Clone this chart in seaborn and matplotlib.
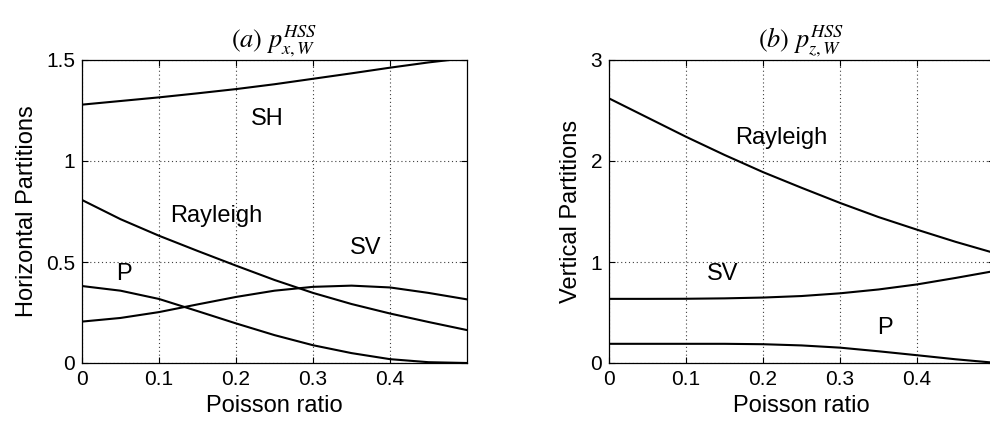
import numpy as np
import pandas as pd
import matplotlib
matplotlib.use("Agg")
import matplotlib.pyplot as plt
import seaborn as sns
from matplotlib.ticker import FuncFormatter

# ---- data ----
poisson = [0.0, 0.05, 0.10, 0.15, 0.20, 0.25, 0.30, 0.35, 0.40, 0.45, 0.50]

# (a) horizontal partitions
h_SH = [1.279, 1.297, 1.315, 1.335, 1.356, 1.380, 1.407, 1.434, 1.462, 1.488, 1.510]
h_Rayleigh = [0.807, 0.712, 0.630, 0.555, 0.482, 0.411, 0.347, 0.292, 0.245, 0.203, 0.163]
h_SV = [0.205, 0.223, 0.252, 0.290, 0.327, 0.358, 0.377, 0.383, 0.374, 0.347, 0.315]
h_P = [0.381, 0.358, 0.317, 0.257, 0.196, 0.138, 0.088, 0.049, 0.019, 0.004, 0.000]

# (b) vertical partitions
v_Rayleigh = [2.620, 2.430, 2.240, 2.060, 1.890, 1.735, 1.585, 1.445, 1.320, 1.200, 1.090]
v_SV = [0.635, 0.635, 0.636, 0.640, 0.648, 0.663, 0.690, 0.728, 0.778, 0.842, 0.910]
v_P = [0.190, 0.190, 0.190, 0.190, 0.186, 0.174, 0.152, 0.116, 0.077, 0.037, 0.003]

x_ticks = [0, 0.1, 0.2, 0.3, 0.4]
a_yticks = [0, 0.5, 1, 1.5]
b_yticks = [0, 1, 2, 3]

a_labels = {"SH": (0.241, 1.21), "Rayleigh": (0.175, 0.73), "SV": (0.369, 0.57), "P": (0.054, 0.44)}
b_labels = {"Rayleigh": (0.224, 2.23), "SV": (0.148, 0.88), "P": (0.359, 0.35)}

def long_df(series):
    rows = []
    for name, vals in series.items():
        for xv, yv in zip(poisson, vals):
            rows.append({"nu": xv, "val": yv, "wave": name})
    return pd.DataFrame(rows)

df_a = long_df({"SH": h_SH, "Rayleigh": h_Rayleigh, "SV": h_SV, "P": h_P})
df_b = long_df({"Rayleigh": v_Rayleigh, "SV": v_SV, "P": v_P})

sns.set_theme(style="white")
plt.rcParams["font.family"] = ["Liberation Sans", "DejaVu Sans"]
plt.rcParams["mathtext.fontset"] = "stix"

fig = plt.figure(figsize=(9.9, 4.3), dpi=100)
fig.patch.set_facecolor("white")
axa = fig.add_axes([82/990, 1-363/430, 385/990, 303/430])
axb = fig.add_axes([609/990, 1-363/430, 385/990, 303/430])

def style(ax, df, yticks, ylim, ylabel, title, labels):
    sns.lineplot(data=df, x="nu", y="val", hue="wave", units="wave", estimator=None,
                 palette=["black"] * df["wave"].nunique(), legend=False, ax=ax,
                 linewidth=1.5, sort=False)
    ax.set_xlim(0, 0.5)
    ax.set_ylim(*ylim)
    ax.set_xticks(x_ticks)
    ax.set_yticks(yticks)
    fmt = FuncFormatter(lambda v, p: f"{v:g}")
    ax.xaxis.set_major_formatter(fmt)
    ax.yaxis.set_major_formatter(fmt)
    ax.grid(True, linestyle=(0, (1, 2.5)), color="0.25", linewidth=0.8)
    ax.tick_params(direction="in", length=4, width=0.8, labelsize=15, colors="black",
                   pad=5, top=True, right=True, bottom=True, left=True)
    for s in ax.spines.values():
        s.set_color("black")
        s.set_linewidth(0.9)
    ax.set_xlabel("Poisson ratio", fontsize=17, color="black", labelpad=4)
    ax.set_ylabel(ylabel, fontsize=17, color="black", labelpad=6)
    ax.set_title(title, fontsize=19, color="black", pad=9)
    for txt, (tx, ty) in labels.items():
        ax.text(tx, ty, txt, fontsize=17, ha="center", va="center", color="black")

style(axa, df_a, a_yticks, (0, 1.5), "Horizontal Partitions",
      r"$\mathit{(a)}\ p^{HSS}_{x,W}$", a_labels)
style(axb, df_b, b_yticks, (0, 3), "Vertical Partitions",
      r"$\mathit{(b)}\ p^{HSS}_{z,W}$", b_labels)

fig.savefig("out.png", dpi=100, facecolor="white")
